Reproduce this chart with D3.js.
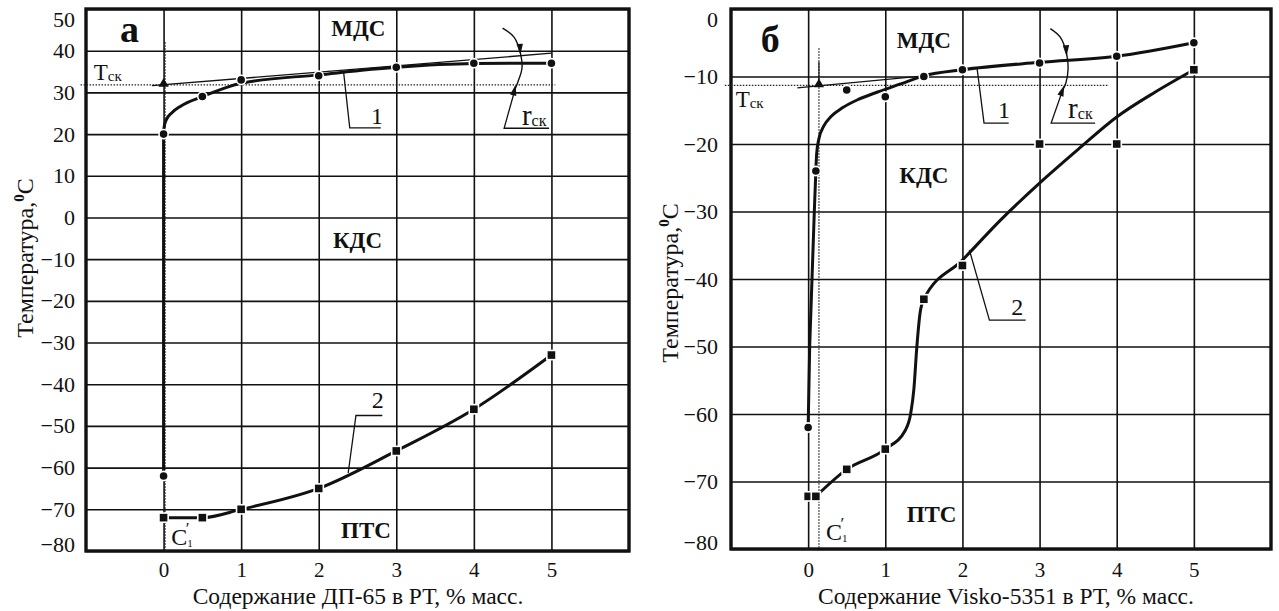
<!DOCTYPE html>
<html>
<head>
<meta charset="utf-8">
<script src="https://cdn.jsdelivr.net/npm/d3@7"></script>
<style>
    body { margin: 0; background: #fff; }
    svg { display: block; font-family: "Liberation Serif", "Times New Roman", serif; }
    text { font-family: "Liberation Serif", "Times New Roman", serif; fill: #111; }
</style>
</head>
<body>
<svg id="chart" width="1279" height="611"></svg>
<script>
// Concentration axis, % mass (same for both panels)
const xTicks = [0, 1, 2, 3, 4, 5];

// ---- Panel а: ДП-65 ----
const yTicksA = [50, 40, 30, 20, 10, 0, -10, -20, -30, -40, -50, -60, -70, -80];
const dpConc1 = [0, 0, 0.5, 1, 2, 3, 4, 5];
const dpTemp1 = [20, -62, 29, 33, 34, 36, 37, 37];
const dpConc2 = [0, 0.5, 1, 2, 3, 4, 5];
const dpTemp2 = [-72, -72, -70, -65, -56, -46, -33];
// drawn curve 1 (smoothed, goes a bit under the points)
const dpFitConc = [0, 0.01, 0.04, 0.1, 0.22, 0.5, 1, 2, 3, 4, 5];
const dpFitTemp = [20.5, 22, 23.6, 25, 26.7, 29, 32.2, 34.2, 36, 36.9, 37];
const dpStemConc = [0, 0];
const dpStemTemp = [-62, 20];
const dpTsk = 31.8;     // Tск level
const dpC1 = 0.02;      // C1' position

// ---- Panel б: Visko-5351 ----
const yTicksB = [0, -10, -20, -30, -40, -50, -60, -70, -80];
const viskoConc1 = [0, 0.1, 0.5, 1, 1.5, 2, 3, 4, 5];
const viskoTemp1 = [-62, -24, -12, -13, -10, -9, -8, -7, -5];
const viskoConc2 = [0, 0.1, 0.5, 1, 1.5, 2, 3, 4, 5];
const viskoTemp2 = [-72.2, -72.2, -68.2, -65.2, -43, -38, -20, -20, -9];
const viskoFit1Conc = [0.1, 0.11, 0.14, 0.2, 0.3, 0.45, 0.65, 0.9, 1.2, 1.5, 2, 3, 4, 5];
const viskoFit1Temp = [-24, -21.5, -19.2, -17.4, -15.9, -14.6, -13.4, -12.3, -11.1, -9.9, -9, -7.9, -7, -5];
const viskoStemConc = [0, 0.02, 0.05, 0.08, 0.1];
const viskoStemTemp = [-62, -50, -40, -30, -24];
const viskoFit2Conc = [0.1, 0.5, 1, 1.26, 1.33, 1.37, 1.41, 1.45, 1.5, 2, 2.5, 3, 3.5, 4, 4.5, 5];
const viskoFit2Temp = [-72.2, -68.2, -65.2, -62.4, -59.9, -56.4, -49.9, -45.1, -43, -37.2, -31.2, -25.8, -20.8, -16, -12.3, -9];
const viskoTsk = -11.3;
const viskoC1 = 0.14;

// Annotation geometry in data units
const panelA = {
    left: 86, right: 629, top: 9, bottom: 551,
    yDomain: [-80, 50], yTicks: yTicksA, yPad: 11,
    xLabel: 'Содержание ДП-65 в РТ, % масс.', xLabelX: 358,
    yLabelX: 33, yLabelY: 258,
    letter: 'а', letterPos: [-0.44, 42.1],
    regions: [['МДС', 2.51, 43.6], ['КДС', 2.5, -7.3], ['ПТС', 2.61, -76.9]],
    points1: d3.zip(dpConc1, dpTemp1),
    points2: d3.zip(dpConc2, dpTemp2),
    stem: d3.zip(dpStemConc, dpStemTemp),
    fit1: d3.zip(dpFitConc, dpFitTemp),
    fit2: d3.zip(dpConc2, dpTemp2),
    tangent: [[-0.15, 31.6], [5, 39.4]],
    tsk: dpTsk, tskRange: [-1.07, 5.05], tskText: [-0.9, 33],
    c1: dpC1, c1Top: 42, c1Text: [0.1, -78.5],
    triangle: [0, dpTsk],
    leader1: [[2.32, 35.0], [2.4, 21.5], [2.8, 21.5]], label1: [2.75, 22.4],
    leader2: [[2.38, -61.3], [2.48, -47.5], [2.82, -47.5]], label2: [2.76, -45.8],
    arc: [[4.37, 45.4], [4.52, 43.2], [4.60, 39.4], [4.62, 35.8], [4.57, 32.6], [4.53, 30.7]],
    arcLeader: [[4.53, 30.7], [4.39, 21.4], [4.97, 21.4]],
    arrowTop: [[4.59, 42.0], [4.60, 39.0]],
    arrowBottom: [[4.45, 25.0], [4.54, 31.9]],
    rText: [4.62, 22.2]
};

const panelB = {
    left: 731, right: 1271, top: 9, bottom: 549,
    yDomain: [-80, 0], yTicks: yTicksB, yPad: 13,
    xLabel: 'Содержание Visko-5351 в РТ, % масс.', xLabelX: 1006,
    yLabelX: 678, yLabelY: 283,
    letter: 'б', letterPos: [-0.49, -6.3],
    regions: [['МДС', 1.5, -5.8], ['КДС', 1.5, -25.8], ['ПТС', 1.6, -76]],
    points1: d3.zip(viskoConc1, viskoTemp1),
    points2: d3.zip(viskoConc2, viskoTemp2),
    stem: d3.zip(viskoStemConc, viskoStemTemp),
    fit1: d3.zip(viskoFit1Conc, viskoFit1Temp),
    fit2: d3.zip(viskoFit2Conc, viskoFit2Temp),
    tangent: [[-0.14, -11.7], [1.5, -9.9]],
    tsk: viskoTsk, tskRange: [-1.08, 3.9], tskText: [-0.94, -14.5],
    c1: viskoC1, c1Top: -5.8, c1Text: [0.23, -78.6],
    triangle: [viskoC1, viskoTsk],
    triangleStem: [[viskoC1, viskoTsk], [viskoC1, -7.8]],
    leader1: [[2.19, -8.8], [2.28, -16.9], [2.6, -16.9]], label1: [2.54, -16.2],
    leader2: [[2.09, -35.7], [2.35, -46.1], [2.82, -46.1]], label2: [2.71, -45.3],
    arc: [[3.14, -2.9], [3.27, -4.2], [3.35, -6.6], [3.37, -8.8], [3.34, -11.0], [3.30, -12.0]],
    arcLeader: [[3.30, -12.0], [3.15, -16.9], [3.72, -16.9]],
    arrowTop: [[3.34, -5.0], [3.35, -7.0]],
    arrowBottom: [[3.2, -15.0], [3.32, -11.3]],
    rText: [3.37, -16.2]
};

const svg = d3.select('#chart');

// Small filled arrowhead at the end of a [from, to] pair (pixels)
function arrowHead(g, from, to) {
    const ang = Math.atan2(to[1] - from[1], to[0] - from[0]);
    const len = 11, half = 3.2;
    const bx = to[0] - len * Math.cos(ang), by = to[1] - len * Math.sin(ang);
    const p = [
        to,
        [bx + half * Math.sin(ang), by - half * Math.cos(ang)],
        [bx - half * Math.sin(ang), by + half * Math.cos(ang)]
    ];
    g.append('path')
        .attr('d', 'M' + p.map(d => d.join(',')).join('L') + 'Z')
        .attr('fill', '#111');
}

function drawPanel(cfg) {
    const x = d3.scaleLinear().domain([-1, 6]).range([cfg.left, cfg.right]);
    const y = d3.scaleLinear().domain(cfg.yDomain).range([cfg.bottom, cfg.top]);
    const w = cfg.right - cfg.left;
    const h = cfg.bottom - cfg.top;
    const g = svg.append('g');
    const px = d => [x(d[0]), y(d[1])];
    const line = d3.line().x(d => x(d[0])).y(d => y(d[1]));
    const smooth = d3.line().x(d => x(d[0])).y(d => y(d[1])).curve(d3.curveCatmullRom.alpha(0.5));
    const mono = d3.line().x(d => x(d[0])).y(d => y(d[1])).curve(d3.curveMonotoneX);

    // Grid via axes
    const xAxis = g.append('g')
        .attr('transform', `translate(0,${cfg.bottom})`)
        .call(d3.axisBottom(x).tickValues(xTicks).tickSize(-h)
            .tickPadding(577 - cfg.bottom - 0.71 * 21).tickFormat(d3.format('d')));
    const yAxis = g.append('g')
        .attr('transform', `translate(${cfg.left},0)`)
        .call(d3.axisLeft(y).tickValues(cfg.yTicks).tickSize(-w)
            .tickPadding(cfg.yPad).tickFormat(d3.format('d')));

    [xAxis, yAxis].forEach(ax => {
        ax.attr('font-family', null).attr('font-size', null);
        ax.select('.domain').remove();
        ax.selectAll('line').attr('stroke', '#111').attr('stroke-width', 1.6);
        ax.selectAll('text').attr('fill', '#111');
    });
    xAxis.selectAll('text').style('font-size', '21px');
    yAxis.selectAll('text').style('font-size', '22px');
    // keep top and bottom y labels inside the frame, like the original
    const yMax = cfg.yDomain[1], yMin = cfg.yDomain[0];
    yAxis.selectAll('.tick').filter(d => d === yMax).select('text').attr('dy', '0.78em');
    yAxis.selectAll('.tick').filter(d => d === yMin).select('text').attr('dy', '0.0em');

    // Frame
    g.append('rect')
        .attr('x', cfg.left).attr('y', cfg.top)
        .attr('width', w).attr('height', h)
        .attr('fill', 'none').attr('stroke', '#111').attr('stroke-width', 3.4);

    // Dotted guide lines: Tск and C1'
    g.append('line')
        .attr('x1', x(cfg.tskRange[0])).attr('x2', x(cfg.tskRange[1]))
        .attr('y1', y(cfg.tsk)).attr('y2', y(cfg.tsk))
        .attr('stroke', '#222').attr('stroke-width', 1.3).attr('stroke-dasharray', '1.5,1.5');
    g.append('line')
        .attr('x1', x(cfg.c1)).attr('x2', x(cfg.c1))
        .attr('y1', y(cfg.c1Top)).attr('y2', y(yMin))
        .attr('stroke', '#222').attr('stroke-width', 1.3).attr('stroke-dasharray', '1.5,1.5');

    // Thin tangent line
    g.append('path').attr('d', line(cfg.tangent))
        .attr('fill', 'none').attr('stroke', '#111').attr('stroke-width', 1.3);
    if (cfg.triangleStem) {
        g.append('path').attr('d', line(cfg.triangleStem))
            .attr('fill', 'none').attr('stroke', '#111').attr('stroke-width', 1.2);
    }

    // Curves 1 and 2
    g.append('path').attr('d', line(cfg.stem))
        .attr('fill', 'none').attr('stroke', '#111').attr('stroke-width', 3);
    g.append('path').attr('d', mono(cfg.fit1))
        .attr('fill', 'none').attr('stroke', '#111').attr('stroke-width', 3);
    g.append('path').attr('d', mono(cfg.fit2))
        .attr('fill', 'none').attr('stroke', '#111').attr('stroke-width', 3);

    // Markers
    g.append('g').selectAll('circle')
        .data(cfg.points1)
        .enter()
        .append('circle')
        .attr('cx', d => x(d[0]))
        .attr('cy', d => y(d[1]))
        .attr('r', 4.6)
        .attr('fill', '#111')
        .attr('stroke', '#fff')
        .attr('stroke-width', 1.6);
    g.append('g').selectAll('rect')
        .data(cfg.points2)
        .enter()
        .append('rect')
        .attr('x', d => x(d[0]) - 4.6)
        .attr('y', d => y(d[1]) - 4.6)
        .attr('width', 9.2)
        .attr('height', 9.2)
        .attr('fill', '#111')
        .attr('stroke', '#fff')
        .attr('stroke-width', 1.6);
    g.append('path')
        .attr('d', d3.symbol().type(d3.symbolTriangle).size(45)())
        .attr('transform', `translate(${x(cfg.triangle[0])},${y(cfg.triangle[1]) - 1})`)
        .attr('fill', '#111');

    // Leaders for curve numbers and rск
    [cfg.leader1, cfg.leader2, cfg.arcLeader].forEach(pts => {
        g.append('path').attr('d', line(pts))
            .attr('fill', 'none').attr('stroke', '#111').attr('stroke-width', 1.3);
    });
    g.append('path').attr('d', smooth(cfg.arc))
        .attr('fill', 'none').attr('stroke', '#111').attr('stroke-width', 1.4);
    arrowHead(g, px(cfg.arrowTop[0]), px(cfg.arrowTop[1]));
    arrowHead(g, px(cfg.arrowBottom[0]), px(cfg.arrowBottom[1]));

    // Texts
    g.append('text')
        .attr('x', x(cfg.label1[0])).attr('y', y(cfg.label1[1]))
        .attr('text-anchor', 'middle').style('font-size', '24px').text('1');
    g.append('text')
        .attr('x', x(cfg.label2[0])).attr('y', y(cfg.label2[1]))
        .attr('text-anchor', 'middle').style('font-size', '24px').text('2');

    const r = g.append('text')
        .attr('x', x(cfg.rText[0])).attr('y', y(cfg.rText[1]))
        .style('font-size', '29px');
    r.append('tspan').text('r');
    r.append('tspan').attr('dy', 1).style('font-size', '16px').text('ск');

    const t = g.append('text')
        .attr('x', x(cfg.tskText[0])).attr('y', y(cfg.tskText[1]))
        .style('font-size', '23px');
    t.append('tspan').text('T');
    t.append('tspan').attr('dy', 1).style('font-size', '15px').text('ск');

    const c = g.append('text')
        .attr('x', x(cfg.c1Text[0])).attr('y', y(cfg.c1Text[1]))
        .style('font-size', '24px');
    c.append('tspan').text('C');
    c.append('tspan').attr('dy', 2).style('font-size', '11px').text('1');
    c.append('tspan').attr('dx', -7).attr('dy', -13).style('font-size', '17px').text('′');

    g.append('text')
        .attr('x', x(cfg.letterPos[0])).attr('y', y(cfg.letterPos[1]))
        .attr('text-anchor', 'middle')
        .style('font-size', '38px').style('font-weight', 'bold')
        .text(cfg.letter);

    g.selectAll('.region')
        .data(cfg.regions)
        .enter()
        .append('text')
        .attr('class', 'region')
        .attr('x', d => x(d[1]))
        .attr('y', d => y(d[2]))
        .attr('text-anchor', 'middle')
        .style('font-size', '23px').style('font-weight', 'bold')
        .text(d => d[0]);

    // Axis titles
    g.append('text')
        .attr('x', cfg.xLabelX).attr('y', 604)
        .attr('text-anchor', 'middle')
        .style('font-size', '23.5px')
        .text(cfg.xLabel);

    const yl = g.append('text')
        .attr('transform', `translate(${cfg.yLabelX},${cfg.yLabelY}) rotate(-90)`)
        .attr('text-anchor', 'middle')
        .style('font-size', '24px');
    yl.append('tspan').text('Температура,');
    yl.append('tspan').attr('dy', -9).style('font-size', '15px').style('font-weight', 'bold').text('0');
    yl.append('tspan').attr('dy', 9).text('С');
}

drawPanel(panelA);
drawPanel(panelB);
</script>
</body>
</html>
